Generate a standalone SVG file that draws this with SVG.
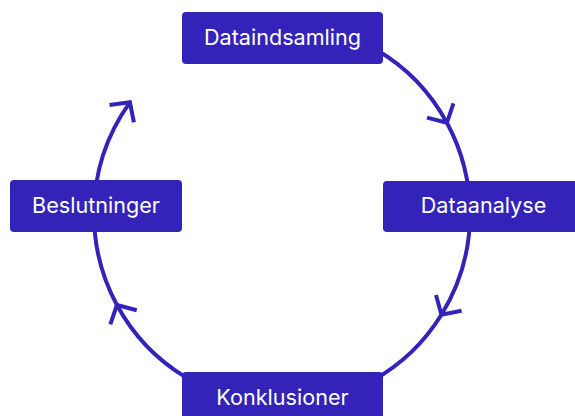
<svg xmlns="http://www.w3.org/2000/svg" width="575" height="416" viewBox="0 0 575 416">
<style>
.box{fill:#3423b8;}
.lbl{fill:#ffffff;font-family:Inter,"Liberation Sans",sans-serif;font-size:21.6px;text-anchor:middle;}
.arc{fill:none;stroke:#3423b8;stroke-width:4;}
</style>
<defs>
<marker id="chev" markerUnits="userSpaceOnUse" orient="auto" markerWidth="40" markerHeight="40" viewBox="-20 -20 40 40" refX="0" refY="0" overflow="visible">
<path d="M-14,-15 L0,0 L-14,15" fill="none" stroke="#3423b8" stroke-width="4"/>
</marker>
</defs>
<rect width="575" height="416" fill="#ffffff"/>
<g id="connectors">
<path class="arc" marker-mid="url(#chev)" d="M376,49.5 A188 190 0 0 1 446.9,122.8 A188 190 0 0 1 470,214"/>
<path class="arc" marker-mid="url(#chev)" d="M470,214 A188 190 0 0 1 441.4,314.7 A188 190 0 0 1 282,404"/>
<path class="arc" marker-mid="url(#chev)" d="M282,404 A188 190 0 0 1 116.9,305 A188 190 0 0 1 94,214"/>
<path class="arc" marker-end="url(#chev)" d="M94,214 A188 190 0 0 1 129.9,102.3"/>
</g>
<g id="dataindsamling">
<rect class="box" x="182" y="12" width="201" height="52" rx="4"/>
<text class="lbl" x="282.5" y="45">Dataindsamling</text>
</g>
<g id="dataanalyse">
<rect class="box" x="383" y="181" width="201" height="51" rx="4"/>
<text class="lbl" x="483.5" y="213">Dataanalyse</text>
</g>
<g id="konklusioner">
<rect class="box" x="182" y="372" width="201" height="52" rx="4"/>
<text class="lbl" x="282.5" y="405">Konklusioner</text>
</g>
<g id="beslutninger">
<rect class="box" x="10" y="180" width="172" height="52" rx="4"/>
<text class="lbl" x="96" y="213">Beslutninger</text>
</g>
</svg>
